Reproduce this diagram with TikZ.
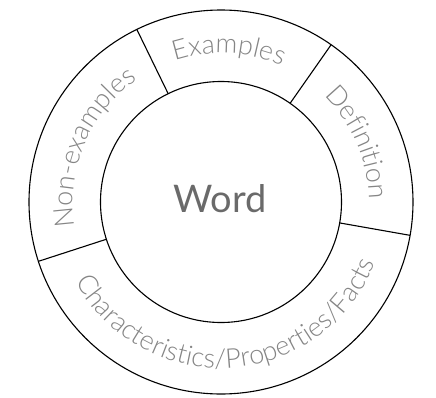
\documentclass[tikz,border=0pt]{standalone}
\usepackage{fontspec}
\setmainfont{Lato}
\newfontfamily\lbl{Lato}[UprightFont={* Light}]
\usetikzlibrary{decorations.text}
\definecolor{lblgray}{HTML}{858585}
\definecolor{wordgray}{HTML}{6A6A6A}
\tikzset{
  ring/.style={draw=black, line width=1.1pt},
  divider/.style={draw=black, line width=1.1pt},
  curvedlabel/.style={decorate, decoration={text along path, text align=center,
      text={|\lbl\fontsize{27}{32}\selectfont\color{lblgray}|#1}}},
  wordlabel/.style={font=\fontsize{38}{44}\selectfont, text=wordgray, inner sep=0pt}
}
\begin{document}
\begin{tikzpicture}[x=1pt,y=1pt]
\useasboundingbox (-221,-195) rectangle (215,202);
\coordinate (c) at (0,0);
\draw[ring] (c) circle[radius=192];
\draw[ring] (c) circle[radius=120.5];
% dividers
\foreach \a/\n in {116/a,55/b,-10/d,198/e}{
  \coordinate (in\n) at (\a:120.5);
  \coordinate (out\n) at (\a:192);
  \draw[divider] (in\n) -- (out\n);
}
\node[wordlabel, anchor=base] (word) at (-1,-10) {Word};
% curved labels
\path[curvedlabel=Examples] (87+35:149) arc[start angle=87+35, end angle=87-35, radius=149];
\path[curvedlabel=Definition] (23.5+40:148) arc[start angle=23.5+40, end angle=23.5-40, radius=148];
\path[curvedlabel=Non-examples] (157+45:148) arc[start angle=157+45, end angle=157-45, radius=148];
\path[curvedlabel=Characteristics/Properties/Facts] (273.5-80:166) arc[start angle=273.5-80, end angle=273.5+80, radius=166];
\end{tikzpicture}
\end{document}
